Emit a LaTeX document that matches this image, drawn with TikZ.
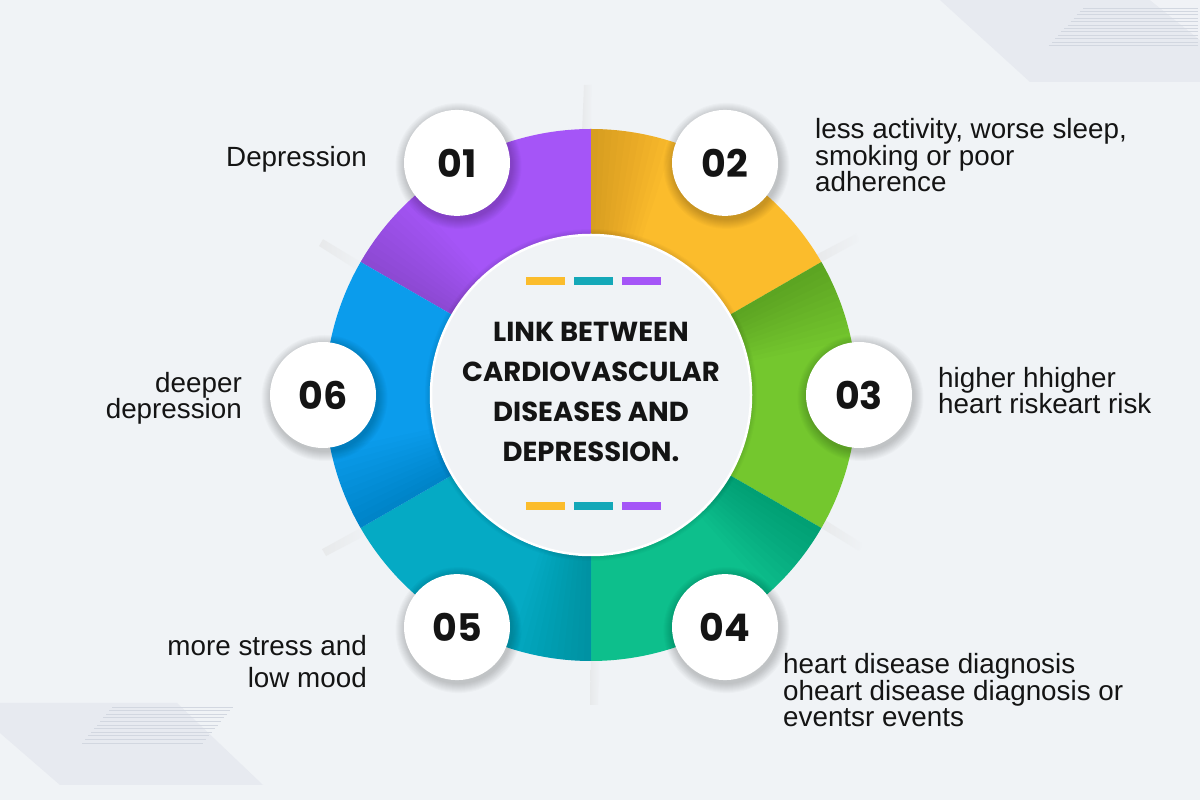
\documentclass[tikz,border=0pt]{standalone}
\usepackage{fontspec}
\setmainfont{Liberation Sans}
\newfontfamily\pop{Poppins}
\usetikzlibrary{calc}
\definecolor{bg}{HTML}{F0F3F6}
\definecolor{deco}{HTML}{E7EAF0}
\definecolor{stripe}{HTML}{D2D7E0}
\definecolor{cpurple}{HTML}{A555F7}
\definecolor{cyellow}{HTML}{FBBC2C}
\definecolor{cgreen}{HTML}{74C72E}
\definecolor{cteal}{HTML}{0DBF8C}
\definecolor{ccyan}{HTML}{05AAC4}
\definecolor{cblue}{HTML}{0B9CEC}
\definecolor{dteal}{HTML}{14A8B8}
\definecolor{ink}{HTML}{141414}
\tikzset{
  numc/.style={circle, fill=white, minimum size=106pt, inner sep=0pt, text=ink,
    font=\pop\bfseries\fontsize{38}{38}\selectfont},
  body/.style={text=ink, inner sep=0pt, font=\fontsize{27.8}{26.5}\selectfont},
  title/.style={text=ink, inner sep=0pt, align=center, font=\pop\bfseries\fontsize{27.5}{40}\selectfont},
  dashbar/.style={inner sep=0pt, minimum width=39pt, minimum height=8pt},
  stripeline/.style={stripe, line width=0.7pt},
}
\begin{document}
\begin{tikzpicture}[x=1pt,y=1pt]
\useasboundingbox (0,0) rectangle (1200,800);
\fill[bg] (0,0) rectangle (1200,800);
% decorative background shapes
\fill[deco] (940,800) -- (1200,800) -- (1200,718) -- (1030,718) -- cycle;
\fill[bg!60!white, opacity=.6] (1150,800) -- (1200,800) -- (1200,760) -- cycle;
\foreach \i in {0,...,11} \draw[stripeline] ({1083-\i*3.1},{792-\i*3.4}) -- (1198,{792-\i*3.4});
\fill[deco] (0,97) -- (177,97) -- (263,15) -- (60,15) -- (0,67) -- cycle;
\foreach \i in {0,...,10} \draw[stripeline] ({112-\i*3},{93-\i*3.6}) -- ({233-\i*3},{93-\i*3.6});
% faint rays
\coordinate (C) at (591,405);
\foreach \a in {90,30,-30,-90,-150,150} {
  \begin{scope}[shift={(C)}, rotate=\a]
    \shade[left color=black!12, right color=bg, opacity=.5] (262,0) -- (310,-1) -- (310,7) -- (262,9) -- cycle;
  \end{scope}
}
% ring segments
\foreach \s/\e/\c in {90/150/cpurple, 30/90/cyellow, -30/30/cgreen, -90/-30/cteal, -150/-90/ccyan, 150/210/cblue} {
  \fill[\c] (C) -- ++(\s:266) arc[start angle=\s, end angle=\e, radius=266] -- cycle;
  \foreach \k in {1.5,3,...,18}
    \fill[black, opacity=.012] (C) -- ++({\e-\k}:266) arc[start angle={\e-\k}, end angle=\e, radius=266] -- cycle;
}
% inner circle
\foreach \k in {1,...,6} \fill[black, opacity=.02] (C) circle ({160+\k});
\fill[bg] (C) circle (160);
\draw[white, line width=2.5pt] (C) circle (160);
% number circles with soft shadows
\foreach \n/\a in {1/120, 2/60, 3/0, 4/-60, 5/-120, 6/180} {
  \coordinate (p\n) at ($(C)+(\a:268)$);
  \foreach \k in {1,...,10} \fill[black, opacity=.018] ($(p\n)+(1.5,-3)$) circle ({53+\k});
}
\node[numc] (n1) at (p1) {01};
\node[numc] (n2) at (p2) {02};
\node[numc] (n3) at (p3) {03};
\node[numc] (n4) at (p4) {04};
\node[numc] (n5) at (p5) {05};
\node[numc] (n6) at (p6) {06};
% title (base anchor = baseline of last line)
\node[title, anchor=base] (t) at (591,338) {LINK BETWEEN\\CARDIOVASCULAR\\DISEASES AND\\DEPRESSION.};
% dashes
\node[dashbar, fill=cyellow] (d1) at (545.5,519) {};
\node[dashbar, fill=dteal] (d2) at (593,519) {};
\node[dashbar, fill=cpurple] (d3) at (641.5,519) {};
\node[dashbar, fill=cyellow] (d4) at (545.5,293.5) {};
\node[dashbar, fill=dteal] (d5) at (593,293.5) {};
\node[dashbar, fill=cpurple] (d6) at (641.5,293.5) {};
% labels
\node[body, anchor=base east] (l1) at (367,633) {Depression};
\node[body, anchor=base west, align=left] (l2) at (815,608) {less activity, worse sleep,\\smoking or poor\\adherence};
\node[body, anchor=base west, align=left] (l3) at (938,386) {higher hhigher\\heart riskeart risk};
\node[body, anchor=base west, align=left] (l4) at (783,73) {heart disease diagnosis\\oheart disease diagnosis or\\eventsr events};
\node[body, anchor=base east, align=right, font=\fontsize{27.8}{32}\selectfont] (l5) at (367,112) {more stress and\\low mood};
\node[body, anchor=base east, align=right] (l6) at (242,381) {deeper\\depression};
\end{tikzpicture}
\end{document}
